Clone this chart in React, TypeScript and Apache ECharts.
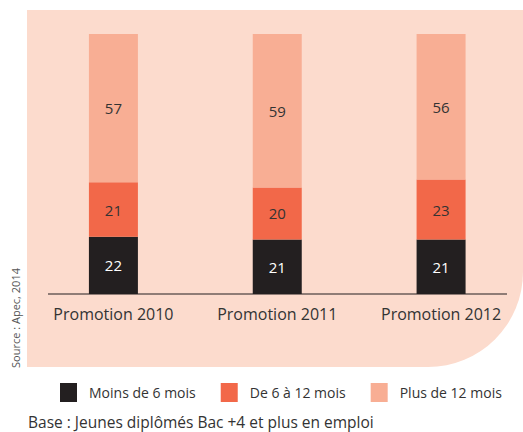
import React, { useEffect, useRef } from "react";
import * as echarts from "echarts";

const categories = ["Promotion 2010", "Promotion 2011", "Promotion 2012"];
const seriesNames = ["Moins de 6 mois", "De 6 à 12 mois", "Plus de 12 mois"];
const moins6 = [22, 21, 21];
const de6a12 = [21, 20, 23];
const plus12 = [57, 59, 56];
const colors = ["#231f20", "#f26849", "#f8ae94"];

const FONT = "Open Sans";

export default function App() {
  const ref = useRef<HTMLDivElement>(null);
  useEffect(() => {
    if (!ref.current) return;
    const chart = echarts.init(ref.current, null, { renderer: "svg" });
    const values = [moins6, de6a12, plus12];
    chart.setOption({
      animation: false,
      backgroundColor: "#ffffff",
      textStyle: { fontFamily: FONT },
      graphic: [
        {
          type: "rect",
          z: -10,
          shape: { x: 27, y: 10, width: 496, height: 357, r: [0, 0, 95, 0] },
          style: { fill: "#fcdbcd" },
        },
        {
          type: "line",
          z: 1,
          shape: { x1: 48, y1: 294, x2: 507, y2: 294 },
          style: { stroke: "#231f20", lineWidth: 1.2 },
        },
        {
          type: "text",
          x: 15,
          y: 318,
          rotation: Math.PI / 2,
          style: {
            text: "Source : Apec, 2014",
            fontFamily: FONT,
            fontSize: 11,
            fill: "#555555",
            align: "center",
            verticalAlign: "middle",
          },
        },
        {
          type: "text",
          x: 28,
          y: 422,
          style: {
            text: "Base : Jeunes diplômés Bac +4 et plus en emploi",
            fontFamily: FONT,
            fontSize: 15.5,
            fill: "#333333",
            align: "left",
            verticalAlign: "middle",
          },
        },
      ],
      legend: {
        left: 60,
        top: 383,
        width: 470,
        padding: 0,
        icon: "rect",
        itemWidth: 17,
        itemHeight: 19,
        itemGap: 25,
        textStyle: { fontFamily: FONT, fontSize: 14, color: "#333333", padding: [0, 0, 0, 7] },
        data: seriesNames,
      },
      grid: { left: 31.5, width: 498, top: 34, height: 260 },
      xAxis: {
        type: "category",
        data: categories,
        axisLine: { show: false },
        axisTick: { show: false },
        axisLabel: { fontFamily: FONT, fontSize: 16, color: "#333333", margin: 12 },
      },
      yAxis: { type: "value", min: 0, max: 100, show: false },
      series: seriesNames.map((name, i) => ({
        name,
        type: "bar",
        stack: "total",
        barWidth: 49,
        data: values[i],
        itemStyle: { color: colors[i] },
        label: {
          show: true,
          position: "inside",
          fontFamily: FONT,
          fontSize: 15,
          color: i === 0 ? "#ffffff" : "#333333",
        },
      })),
    });
    return () => chart.dispose();
  }, []);
  return (
    <div
      ref={ref}
      style={{ position: "fixed", left: 0, top: 0, width: 523, height: 432 }}
    />
  );
}
